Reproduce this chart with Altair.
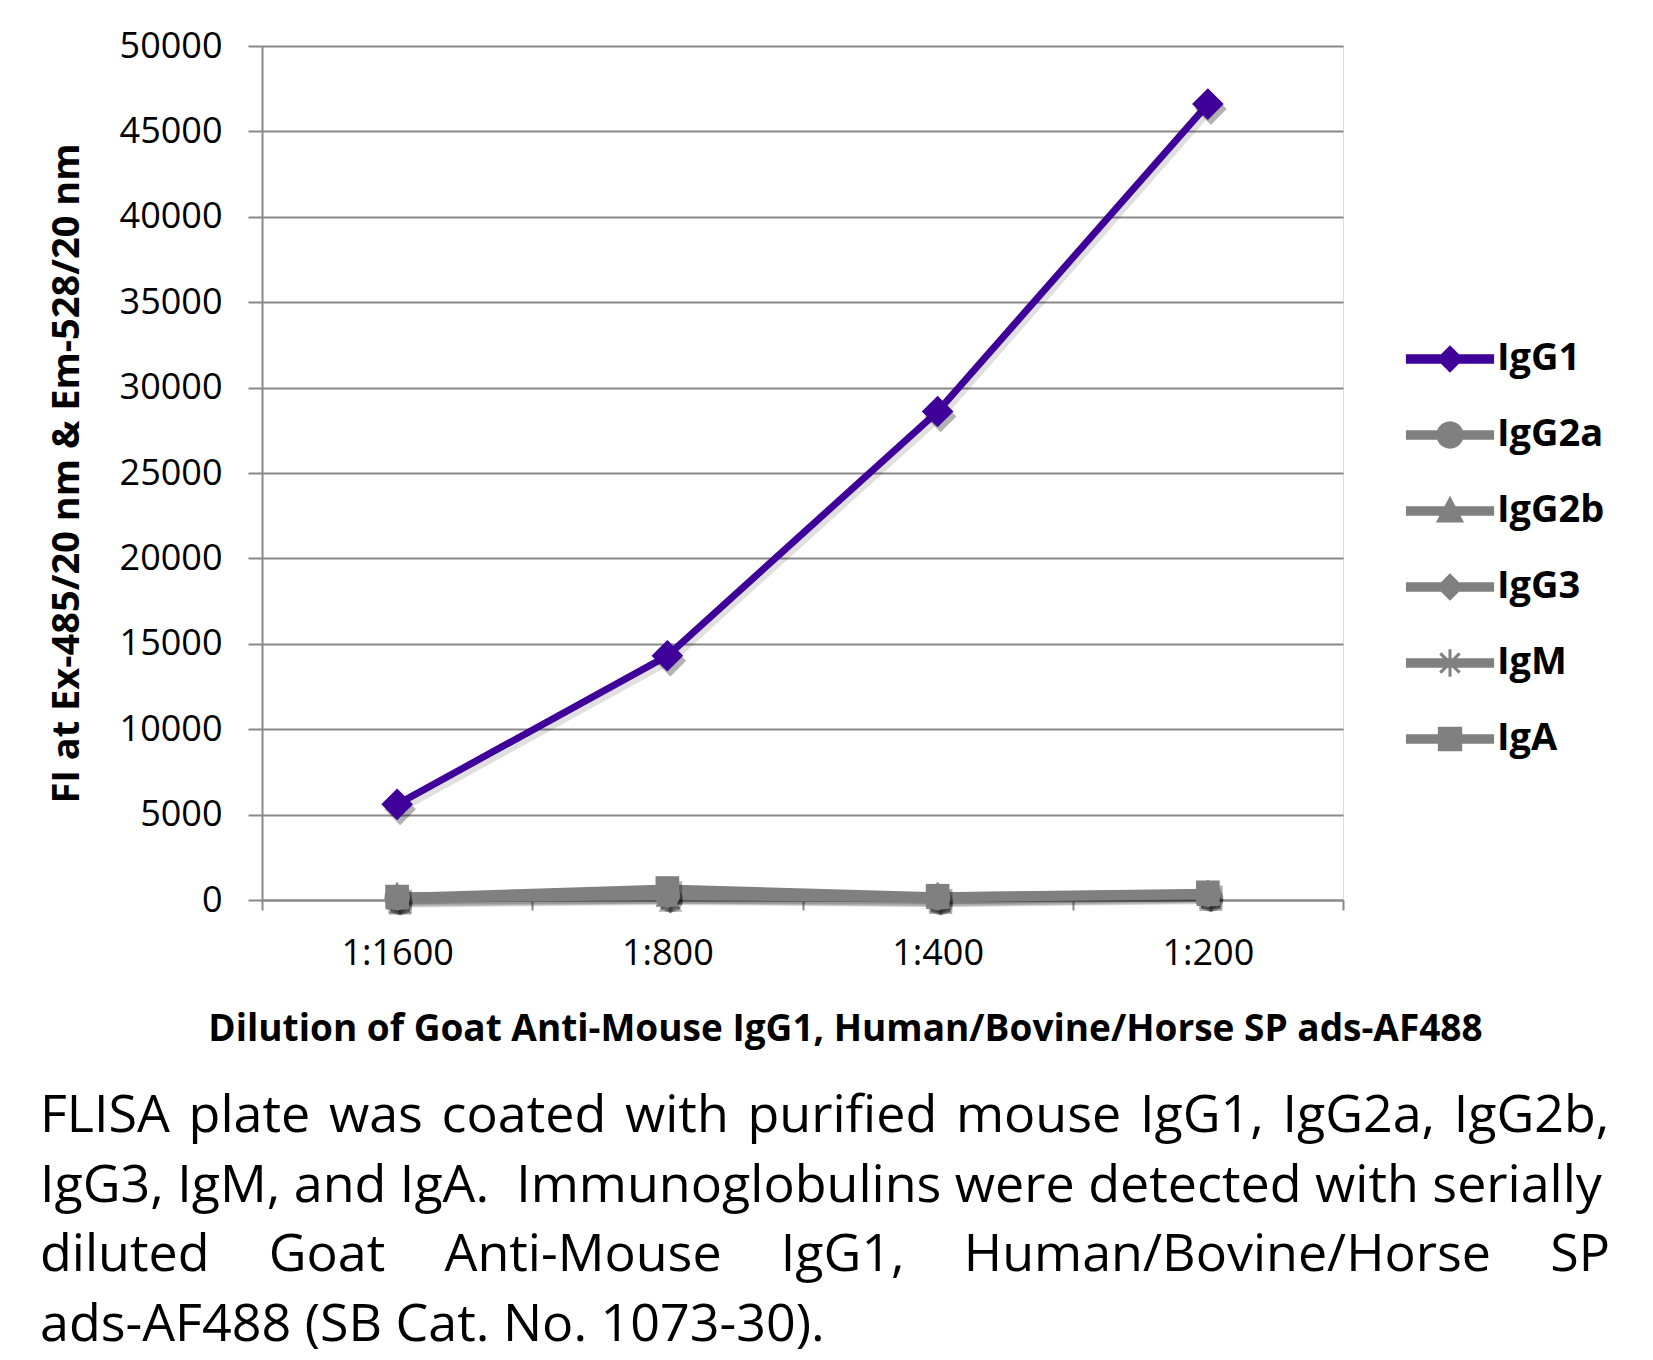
import math
import altair as alt
import pandas as pd

# ---------------- data ----------------
dilutions = ["1:1600", "1:800", "1:400", "1:200"]
series_names = ["IgG1", "IgG2a", "IgG2b", "IgG3", "IgM", "IgA"]
igg1 = [5600, 14300, 28600, 46600]
igg2a = [150, 300, 150, 350]
igg2b = [50, 200, 80, 250]
igg3 = [100, 250, 100, 300]
igm = [250, 300, 250, 400]
iga = [200, 700, 250, 450]
y_ticks = [0, 5000, 10000, 15000, 20000, 25000, 30000, 35000, 40000, 45000, 50000]

x_title = "Dilution of Goat Anti-Mouse IgG1, Human/Bovine/Horse SP ads-AF488"
y_title = "FI at Ex-485/20 nm & Em-528/20 nm"
caption_words = [
    ["FLISA", "plate", "was", "coated", "with", "purified", "mouse", "IgG1,", "IgG2a,", "IgG2b,"],
    ["IgG3,", "IgM,", "and", "IgA.\u00a0", "Immunoglobulins", "were", "detected", "with", "serially"],
    ["diluted", "Goat", "Anti-Mouse", "IgG1,", "Human/Bovine/Horse", "SP"],
    ["ads-AF488", "(SB", "Cat.", "No.", "1073-30)."],
]
# word gaps used to imitate the justified paragraph of the reference
NB = "\u00a0"
HAIR = "\u200a"

caption_lines = [
    (" " + HAIR).join(caption_words[0]),
    " ".join(caption_words[1]),
    (" " + NB * 3 + HAIR).join(caption_words[2]),
    " ".join(caption_words[3]),
]

values = [igg1, igg2a, igg2b, igg3, igm, iga]

# ---------------- styles ----------------
PURPLE = "#3f0099"
GREY = "#808080"
AXIS_GREY = "#898989"


def poly(pts):
    return "M" + " L".join(f"{x:.3f},{y:.3f}" for x, y in pts) + " Z"


def bar(x0, x1, h, ang=0.0):
    a = math.radians(ang)
    c, s = math.cos(a), math.sin(a)
    pts = [(x0, -h), (x1, -h), (x1, h), (x0, h)]
    return poly([(x * c - y * s, x * s + y * c) for x, y in pts])


def circle(r, n=28):
    return poly([(r * math.cos(2 * math.pi * i / n), r * math.sin(2 * math.pi * i / n)) for i in range(n)])


def star(r, h):
    return " ".join(bar(-r, r, h, a) for a in (90, 45, 135))


data_star = star(1.0, 0.09)
marker_shape = {"IgG1": "diamond", "IgG2a": "circle", "IgG2b": "triangle-up",
                "IgG3": "diamond", "IgM": data_star, "IgA": "square"}
marker_size = {"IgG1": 1000, "IgG2a": 640, "IgG2b": 560, "IgG3": 640, "IgM": 700, "IgA": 560}
line_color = {s: (PURPLE if s == "IgG1" else GREY) for s in series_names}

legend_line = bar(-1.16, 1.16, 0.125)
legend_marker = {
    "IgG1": poly([(0, -0.36), (0.36, 0), (0, 0.36), (-0.36, 0)]),
    "IgG2a": circle(0.36),
    "IgG2b": poly([(0, -0.4), (0.37, 0.3), (-0.37, 0.3)]),
    "IgG3": poly([(0, -0.36), (0.36, 0), (0, 0.36), (-0.36, 0)]),
    "IgM": star(0.36, 0.04),
    "IgA": poly([(-0.32, -0.32), (0.32, -0.32), (0.32, 0.32), (-0.32, 0.32)]),
}
legend_paths = [legend_line + " " + legend_marker[s] for s in series_names]

rows = []
for s, vals in zip(series_names, values):
    for i, (d, v) in enumerate(zip(dilutions, vals)):
        rows.append({"series": s, "dilution": d, "xi": i, "value": v,
                     "col": line_color[s], "shape": marker_shape[s], "msize": marker_size[s]})
df = pd.DataFrame(rows)

FONT = "Open Sans"

x_enc = alt.X(
    "dilution:N", sort=dilutions, bandPosition=0.5,
    scale=alt.Scale(type="band", paddingInner=0, paddingOuter=0),
    axis=alt.Axis(
        title=x_title, titleFont=FONT, titleFontSize=37, titleFontWeight="bold", titleColor="black",
        titleX=583, titleY=129, titleBaseline="middle", titleAlign="center",
        labelFont=FONT, labelFontSize=36, labelColor="black", labelPadding=26, labelAngle=0,
        tickBand="extent", tickSize=10, tickWidth=2, tickColor=AXIS_GREY,
        domainColor=AXIS_GREY, domainWidth=2, grid=False,
    ),
)
y_enc = alt.Y(
    "value:Q",
    scale=alt.Scale(domain=[0, 50000], nice=False),
    axis=alt.Axis(
        values=y_ticks, format="d",
        title=y_title, titleFont=FONT, titleFontSize=38, titleFontWeight="bold", titleColor="black",
        titlePadding=33,
        labelFont=FONT, labelFontSize=36, labelColor="black", labelPadding=26,
        tickSize=14, tickWidth=2, tickColor=AXIS_GREY,
        domainColor=AXIS_GREY, domainWidth=2,
        grid=True, gridColor=AXIS_GREY, gridWidth=2,
    ),
)

base = alt.Chart(df)

line_shadow = base.mark_line(strokeWidth=7, color="black", opacity=0.12, xOffset=3, yOffset=5).encode(
    x=x_enc, y=y_enc, detail="series:N", order="xi:Q")
lines = base.mark_line(strokeWidth=7).encode(
    x=x_enc, y=y_enc, detail="series:N", order="xi:Q",
    color=alt.Color("col:N", scale=None))
pt_shadow = base.mark_point(filled=True, color="black", opacity=0.3, strokeWidth=0,
                            xOffset=3, yOffset=5).encode(
    x=x_enc, y=y_enc,
    shape=alt.Shape("shape:N", scale=None), size=alt.Size("msize:Q", scale=None))
points = base.mark_point(filled=True, opacity=1, strokeWidth=0).encode(
    x=x_enc, y=y_enc,
    color=alt.Color("col:N", scale=None),
    shape=alt.Shape("shape:N", scale=None), size=alt.Size("msize:Q", scale=None))

legend_layer = base.transform_filter("false").mark_point(filled=True, opacity=1).encode(
    x=x_enc, y=y_enc,
    color=alt.Color("series:N",
                    scale=alt.Scale(domain=series_names, range=[line_color[s] for s in series_names]),
                    legend=alt.Legend(
                        title=None, orient="none", legendX=1150, legendY=275,
                        symbolSize=5776, symbolStrokeWidth=0, symbolOpacity=1,
                        labelFont=FONT, labelFontSize=38, labelFontWeight="bold", labelColor="black",
                        labelOffset=9, rowPadding=19, padding=0)),
    shape=alt.Shape("series:N", scale=alt.Scale(domain=series_names, range=legend_paths)),
)

chart = alt.layer(line_shadow, lines, pt_shadow, points, legend_layer).properties(
    width=1081, height=854,
    padding={"left": 32, "top": 20, "right": 5, "bottom": 14},
    title=alt.Title(
        text=caption_lines, orient="bottom", anchor="start", frame="group",
        dx=-222, offset=44, font=FONT, fontSize=52, fontWeight="normal",
        lineHeight=69.5, color="black", baseline="top",
    ),
).configure_view(stroke="transparent").configure(background="white")

chart.save("out.html", embed_options={"renderer": "svg", "actions": False})
